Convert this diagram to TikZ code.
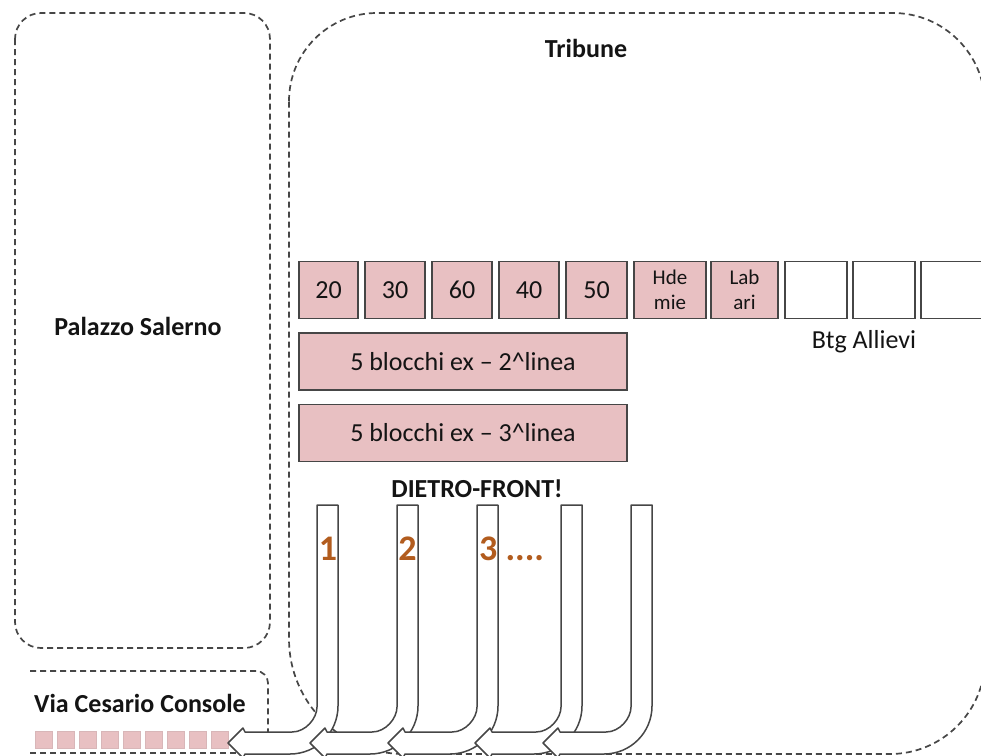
\documentclass[tikz,border=0pt]{standalone}
\usepackage{fontspec}
\setmainfont{Carlito}
\definecolor{pinkfill}{RGB}{232,192,194}
\definecolor{edge}{RGB}{70,70,70}
\definecolor{numc}{RGB}{178,92,30}
\definecolor{txt}{RGB}{20,20,20}
\begin{document}
\begin{tikzpicture}[x=1pt,y=-1pt,
  zone/.style={draw=edge, line width=1.7pt, dash pattern=on 6pt off 4pt},
  unitbox/.style={draw=edge, line width=1.6pt, fill=pinkfill, minimum height=57pt, inner sep=0pt, text=txt, font=\fontsize{26}{30}\selectfont, align=center},
  emptybox/.style={unitbox, fill=white},
  minisq/.style={fill=pinkfill, draw=pinkfill!85!gray, line width=0.6pt, minimum size=17pt, inner sep=0pt},
  arr/.style={draw=edge, line width=1.5pt, fill=white, line join=round},
  lbl/.style={text=txt, font=\bfseries\fontsize{26}{30}\selectfont, inner sep=0pt},
  plain/.style={text=txt, font=\fontsize{26}{30}\selectfont, inner sep=0pt},
  num/.style={text=numc, font=\bfseries\fontsize{36}{40}\selectfont, inner sep=0pt}]

\useasboundingbox (0,0) rectangle (981,755);
\fill[white] (0,0) rectangle (981,755);

% zones
\draw[zone, rounded corners=26pt] (15,13) rectangle (270,648);
\draw[zone] (289,101) .. controls (289,52.4) and (328.4,13) .. (377,13) -- (893,13)
  .. controls (943.8,13) and (985,54.2) .. (985,105) -- (985,659)
  .. controls (985,711.4) and (942.4,754) .. (890,754) -- (404,754)
  .. controls (340.5,754) and (289,702.5) .. (289,639) -- cycle;
\draw[zone, rounded corners=12pt] (30,671) -- (268,671) -- (268,760);
\draw[zone] (30,753) -- (250,753);

% labels of zones
\node[lbl, anchor=base] (trib) at (586,57) {Tribune};
\node[lbl, anchor=base] (pal) at (138,335) {Palazzo Salerno};
\node[lbl, anchor=base] (via) at (140,712) {Via Cesario Console};
\node[lbl, anchor=base] (dietro) at (477,497) {DIETRO-FRONT!};

% first row of units
\node[unitbox, minimum width=59pt] (u20) at (328.5,290) {20};
\node[unitbox, minimum width=60pt] (u30) at (395,290) {30};
\node[unitbox, minimum width=60pt] (u60) at (462,290) {60};
\node[unitbox, minimum width=60pt] (u40) at (529,290) {40};
\node[unitbox, minimum width=61pt] (u50) at (596.5,290) {50};
\node[unitbox, minimum width=72pt, font=\fontsize{21}{25}\selectfont] (uh) at (670,290) {Hde\\mie};
\node[unitbox, minimum width=67pt, font=\fontsize{21}{25}\selectfont] (ul) at (744.5,290) {Lab\\ari};
\node[emptybox, minimum width=62pt] (w1) at (816,290) {};
\node[emptybox, minimum width=62pt] (w2) at (884,290) {};
\node[emptybox, minimum width=64pt] (w3) at (953,290) {};
\node[plain, anchor=base] (btg) at (864,348) {Btg Allievi};

% second and third lines
\node[unitbox, minimum width=328pt] (l2) at (463,361.5) {5 blocchi ex -- 2\textasciicircum linea};
\node[unitbox, minimum width=328pt] (l3) at (463,433) {5 blocchi ex -- 3\textasciicircum linea};

% small squares
\foreach \k in {0,...,8} \node[minisq] (s\k) at ({43.5+22*\k},739.5) {};

% U-turn arrows
\foreach \L/\T in {317/228, 397/310, 477/388, 561/475, 631/543} {
  \draw[arr] (\L,505) -- ({\L+21},505) -- ({\L+21},706)
    .. controls ({\L+21},732.5) and ({\L-0.5},754) .. ({\L-27},754)
    -- ({\T+17},754) -- ({\T+15},758) -- (\T,743) -- ({\T+15},728) -- ({\T+17},732)
    -- ({\L-25},732) .. controls ({\L-11.2},732) and (\L,718.2) .. (\L,707) -- cycle;
}

% numbers
\node[num] (n1) at (328,549) {1};
\node[num] (n2) at (407.5,549) {2};
\node[num, anchor=west] (n3) at (479,549) {3 ....};
\end{tikzpicture}
\end{document}
